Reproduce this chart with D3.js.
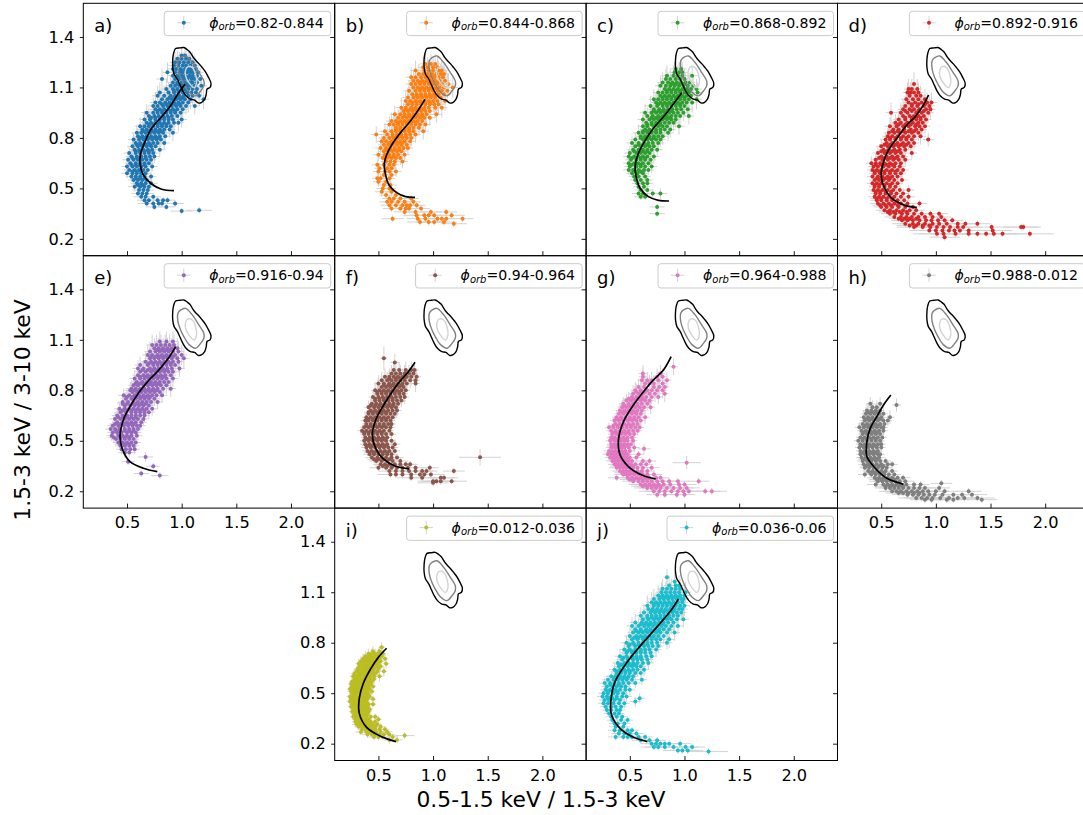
<!DOCTYPE html>
<html lang="en">
<head>
<meta charset="UTF-8">
<title>Colour-colour diagrams by orbital phase</title>
<style>
    html, body { margin: 0; padding: 0; background: #fff; overflow: hidden; }
    svg { display: block; font-family: "DejaVu Sans", sans-serif; }
</style>
</head>
<body>
<div id="graphic"></div>
<script src="https://cdn.jsdelivr.net/npm/d3@7"></script>
<script>
// each row: [y, xerr, yerr, x, x, x ...]
var rowsA = [
[1.29,.04,.05,1,1.03],[1.27,.05,.05,.96,1,1.04,1.07],[1.25,.05,.06,.94,.98,1.02,1.06,1.1],[1.23,.05,.06,.93,.97,1.01,1.04,1.08,1.12],
[1.21,.05,.06,.92,.95,.99,1.03,1.06,1.09,1.13],[1.19,.05,.06,.87,.94,.98,1.01,1.05,1.08,1.11,1.15],[1.17,.05,.06,.92,.96,1,1.03,1.07,1.1,1.14],
[1.15,.05,.06,.82,.94,.98,1.02,1.05,1.09,1.12,1.17],[1.13,.05,.06,.92,.96,1,1.03,1.07,1.1,1.14],[1.11,.05,.06,.9,.94,.98,1.01,1.05,1.08,1.12,1.18],
[1.09,.05,.06,.86,.92,.96,1,1.03,1.06,1.1,1.14],[1.07,.05,.06,.8,.88,.93,.97,1.01,1.05,1.09,1.13],[1.05,.05,.06,.78,.84,.9,.94,.98,1.02,1.06,1.1,1.16],
[1.03,.05,.06,.82,.87,.91,.95,.99,1.03,1.08,1.2],[1.01,.05,.06,.76,.8,.85,.89,.93,.97,1.01,1.06],[.99,.05,.05,.74,.78,.83,.87,.91,.95,.99,1.04,1.12],
[.97,.05,.05,.76,.8,.84,.88,.92,.96,1.01],[.95,.05,.05,.68,.74,.78,.82,.86,.9,.94,.99],[.93,.05,.05,.7,.75,.79,.83,.87,.91,.96],
[.91,.05,.05,.66,.71,.76,.8,.84,.88,.92,1],[.89,.05,.05,.68,.72,.76,.8,.84,.88,.93,.97],[.87,.05,.05,.62,.66,.7,.74,.78,.82,.86,.9],
[.85,.05,.05,.64,.68,.72,.76,.8,.84,.89],[.83,.05,.05,.59,.63,.67,.71,.75,.79,.83,.92],[.81,.05,.05,.6,.64,.68,.72,.76,.8,.85],
[.79,.05,.04,.56,.61,.65,.69,.73,.77,.81],[.77,.05,.04,.58,.62,.66,.7,.74,.78,.84],[.75,.05,.04,.55,.6,.64,.68,.72,.76],
[.73,.05,.04,.57,.61,.65,.69,.73,.8],[.71,.05,.04,.52,.58,.62,.66,.7,.74],[.69,.05,.04,.54,.59,.63,.67,.71,.75],
[.67,.05,.04,.51,.56,.6,.64,.68,.72],[.65,.05,.03,.53,.58,.62,.66,.7],[.63,.05,.03,.5,.55,.59,.63,.67,.73],
[.61,.05,.03,.52,.57,.61,.65,.69],[.59,.05,.03,.5,.55,.59,.63,.67],[.57,.05,.03,.54,.58,.62,.66,.72],[.55,.05,.03,.56,.6,.64,.68],
[.53,.06,.03,.59,.63,.67,.72],[.51,.06,.03,.57,.62,.66,.7],[.49,.06,.02,.61,.65,.69],[.47,.06,.02,.6,.64,.68],[.45,.07,.02,.63,.67,.74],
[.43,.07,.02,.66,.7,.78,.83,.87],[.41,.08,.02,.68,.74,.79,.82,.94],[.39,.08,.02,.75,.86],[.365,.1,.02,1],[.37,.12,.02,1.16],
[1.2,.05,.06,1,1.04,1.08],[1.16,.05,.06,.98,1.02,1.06,1.1],[1.12,.05,.06,.96,1,1.04,1.08],[1.08,.05,.06,.93,.97,1.01,1.05],[1.04,.05,.06,.89,.93,.97,1.01],
[1,.05,.05,.82,.86,.9,.94,.98],[.96,.05,.05,.78,.82,.86,.9,.94],[.92,.05,.05,.72,.76,.8,.84,.88],[.88,.05,.05,.7,.74,.78,.82,.86],[.84,.05,.05,.65,.69,.73,.77,.81],
[.8,.05,.04,.62,.66,.7,.74,.78],[.76,.05,.04,.59,.63,.67,.71],[.72,.05,.04,.58,.62,.66,.7],[.68,.05,.04,.55,.59,.63,.67],[.64,.05,.03,.54,.58,.62,.66],
[.6,.05,.03,.55,.59,.63],[.56,.05,.03,.58,.62,.66],[.52,.06,.03,.6,.64]
];
var rowsB = [
[1.24,.05,.06,.93,.98,1.02],[1.22,.05,.06,.91,.95,1,1.04],[1.2,.05,.06,.84,.92,.96,1,1.05,1.08],[1.18,.05,.06,.87,.91,.95,.99,1.03,1.07,1.1],
[1.16,.05,.06,.8,.84,.89,.93,.97,1.01,1.05,1.09],[1.14,.05,.06,.82,.86,.9,.94,.98,1.02,1.06,1.11],[1.12,.05,.06,.8,.84,.88,.92,.96,1,1.04,1.08,1.14],
[1.1,.05,.06,.82,.86,.9,.94,.98,1.02,1.06,1.1,1.18],[1.08,.05,.06,.78,.84,.88,.92,.96,1,1.04,1.08,1.13],[1.06,.05,.06,.81,.85,.89,.93,.97,1.01,1.05,1.1],
[1.04,.05,.06,.77,.82,.86,.9,.94,.98,1.02,1.07],[1.02,.05,.06,.75,.79,.84,.88,.92,.96,1,1.04,1.11],[1,.05,.06,.77,.81,.85,.89,.93,.97,1.01,1.05],
[.98,.05,.06,.71,.75,.8,.84,.88,.92,.96,1.02,1.08],[.96,.05,.05,.73,.77,.81,.85,.89,.93,.97],[.94,.05,.05,.65,.7,.74,.78,.82,.86,.9,.94,1.03],
[.92,.05,.05,.68,.72,.76,.8,.84,.88,.92,.97],[.9,.05,.05,.62,.66,.7,.74,.78,.82,.86,.9],[.88,.05,.05,.6,.64,.68,.72,.76,.8,.84,.88,.93],
[.86,.05,.05,.66,.7,.74,.78,.82,.87],[.84,.05,.05,.56,.62,.66,.7,.74,.78,.82,.91],[.82,.05,.05,.48,.58,.63,.67,.71,.75,.79,.84],
[.8,.05,.05,.55,.6,.64,.68,.72,.76,.8],[.78,.05,.04,.53,.57,.62,.66,.7,.74,.79],[.76,.05,.04,.55,.59,.63,.67,.71,.76],
[.74,.05,.04,.52,.57,.61,.65,.69,.73,.77],[.72,.05,.04,.55,.59,.63,.67,.71],[.7,.05,.04,.5,.56,.6,.64,.68,.74],
[.68,.05,.04,.54,.58,.62,.66,.7],[.66,.05,.04,.57,.61,.65,.72],[.64,.05,.03,.49,.55,.6,.64],[.62,.05,.03,.51,.58,.62],
[.6,.05,.03,.5,.56,.6,.66],[.58,.05,.03,.55,.62],[.56,.05,.03,.49,.52,.6],[.54,.05,.03,.5,.57],[.52,.06,.03,.55,.61],
[.5,.06,.03,.54,.6],[.48,.06,.03,.53,.62],[.46,.06,.02,.57,.66],[.44,.07,.02,.6,.64,.7,.8],[.42,.07,.02,.58,.62,.68,.74,.82],
[.4,.08,.02,.6,.66,.72,.76,.79,.85],[.38,.08,.02,.62,.7,.75,.78,.89],[.36,.1,.02,.74,.84,.98,1.12],[.34,.12,.02,.85,.92,.96,1.01,1.17],
[.32,.1,.02,.63,.86,.93,1.04,1.08,1.12,1.27],[.3,.12,.02,.88,.96,1.01,1.1],[.29,.12,.02,1.19],
[1.17,.05,.06,.94,.98,1.02],[1.13,.05,.06,.88,.92,.96,1,1.04],[1.09,.05,.06,.88,.92,.96,1,1.04],[1.05,.05,.06,.85,.89,.93,.97,1.01],[1.01,.05,.06,.81,.85,.89,.93,.97],
[.97,.05,.05,.75,.79,.83,.87,.91],[.93,.05,.05,.74,.78,.82,.86,.9],[.89,.05,.05,.68,.72,.76,.8,.84],[.85,.05,.05,.66,.7,.74,.78],[.81,.05,.05,.63,.67,.71,.75],
[.77,.05,.04,.6,.64,.68,.72],[.73,.05,.04,.57,.61,.65,.69],[.69,.05,.04,.56,.6,.64]
];
var rowsC = [
[1.21,.05,.06,.92,.97],[1.19,.05,.06,.91,.95,.98],[1.17,.05,.06,.84,.9,.94,.98,1.07],[1.15,.05,.06,.83,.87,.92,.96,1],
[1.13,.05,.06,.8,.85,.89,.93,.97,1.01,1.05],[1.11,.05,.06,.78,.83,.87,.91,.95,.99,1.03,1.08],[1.09,.05,.06,.82,.86,.9,.94,.98,1.02,1.06,1.11],
[1.07,.05,.06,.76,.8,.84,.88,.92,.96,1,1.04,1.12],[1.05,.05,.06,.78,.82,.86,.9,.94,.98,1.02,1.06],[1.03,.05,.06,.72,.76,.8,.84,.88,.92,.96,1,1.04,1.11],
[1.01,.05,.06,.74,.78,.82,.86,.9,.94,.98,1.02,1.07],[.99,.05,.06,.69,.75,.8,.84,.88,.92,.96,1],[.97,.05,.05,.72,.77,.81,.85,.89,.93,.97,1.03],
[.95,.05,.05,.64,.7,.74,.78,.82,.86,.9,.94,.99],[.93,.05,.05,.66,.71,.76,.8,.84,.88,.92,.96,1.04],[.91,.05,.05,.62,.68,.72,.76,.8,.84,.88,.92],
[.89,.05,.05,.65,.7,.74,.78,.82,.86,.9],[.87,.05,.05,.62,.66,.72,.76,.8,.84,.95],[.85,.05,.05,.64,.68,.74,.78,.82,.87],
[.83,.05,.05,.58,.62,.66,.7,.74,.78,.85],[.81,.05,.05,.6,.64,.68,.72,.76,.8],[.79,.05,.04,.55,.62,.66,.7,.74,.78],
[.77,.05,.04,.52,.58,.63,.67,.71,.76],[.75,.05,.04,.55,.6,.64,.68,.72],[.73,.05,.04,.53,.58,.62,.66,.7,.75],[.71,.05,.04,.5,.56,.6,.64,.68],
[.69,.05,.04,.49,.54,.58,.62,.66,.72],[.67,.05,.04,.51,.56,.6,.64,.69],[.65,.05,.04,.49,.54,.58,.62,.67],[.63,.05,.04,.5,.56,.6,.64,.7],
[.61,.05,.03,.49,.53,.58,.63,.67],[.59,.05,.03,.52,.57,.62],[.57,.05,.03,.54,.58,.64],[.55,.05,.03,.55,.6,.66],[.53,.05,.03,.57,.62,.66],
[.51,.05,.03,.58,.63],[.49,.05,.03,.6,.66],[.47,.06,.03,.58,.62,.71,.78],[.45,.06,.02,.6,.64],[.39,.07,.02,.75],[.35,.07,.02,.75],
[1.12,.05,.06,.88,.92,.96,1],[1.08,.05,.06,.84,.88,.92,.96,1,1.04],[1.04,.05,.06,.8,.84,.88,.92,.96,1],[1,.05,.06,.76,.8,.84,.88,.92,.96],[.96,.05,.05,.72,.76,.8,.84,.88],
[.92,.05,.05,.7,.74,.78,.82,.86],[.88,.05,.05,.66,.7,.74,.78],[.84,.05,.05,.62,.66,.7,.74],[.8,.05,.05,.6,.64,.68,.72],[.76,.05,.04,.58,.62,.66],
[.72,.05,.04,.54,.58,.62,.66],[.68,.05,.04,.52,.56,.6,.64],[.64,.05,.04,.52,.56,.6],[.6,.05,.03,.55,.6]
];
var rowsD = [
[1.12,.04,.07,.8],[1.09,.04,.06,.75,.78,.83],[1.07,.04,.06,.74,.77,.8,.84],[1.05,.04,.06,.76,.82,.86],[1.03,.05,.06,.73,.79,.84,.9],
[1.01,.05,.06,.75,.81,.87,.92,.96],[.99,.05,.06,.72,.78,.83,.89,.94],[.97,.05,.06,.7,.76,.8,.85,.91,.95],[.95,.05,.06,.59,.68,.74,.82,.87,.93],
[.93,.05,.05,.7,.76,.8,.84,.89],[.91,.05,.05,.66,.72,.78,.82,.86,.91],[.89,.05,.05,.63,.68,.74,.79,.84,.88],[.87,.05,.05,.58,.64,.7,.75,.81,.85,.9],
[.85,.05,.05,.61,.66,.71,.77,.82,.87],[.83,.05,.05,.57,.62,.67,.72,.78,.84],[.81,.05,.05,.56,.6,.65,.7,.75,.8,.86],[.79,.05,.04,.54,.58,.63,.68,.73,.78,.93],
[.77,.05,.04,.55,.6,.65,.7,.75,.8],[.75,.05,.04,.5,.56,.61,.66,.71,.77],[.73,.05,.04,.52,.57,.62,.67,.72],[.71,.05,.04,.47,.53,.58,.63,.68,.78],
[.69,.05,.04,.5,.55,.6,.65,.7],[.67,.05,.04,.45,.51,.56,.61,.66,.72],[.65,.05,.04,.41,.45,.49,.53,.58,.63,.68],[.63,.05,.03,.43,.47,.52,.57,.62,.67],
[.61,.05,.03,.42,.46,.5,.55,.6,.65,.7],[.59,.05,.03,.44,.49,.53,.58,.63,.68],[.57,.05,.03,.42,.47,.51,.56,.6,.65],[.55,.05,.03,.44,.48,.52,.57,.62,.69],
[.53,.05,.03,.42,.46,.5,.55,.6,.65],[.51,.05,.03,.44,.48,.53,.58,.63],[.49,.05,.03,.43,.47,.51,.56,.61,.67,.75],[.47,.05,.03,.45,.49,.54,.59,.64,.7],
[.45,.06,.02,.44,.48,.52,.57,.62,.68,.75],[.43,.06,.02,.46,.5,.55,.6,.65,.71],[.41,.07,.02,.47,.52,.57,.62,.68,.74,.85],[.39,.07,.02,.5,.55,.6,.66,.72,.79],
[.37,.08,.02,.53,.58,.64,.7,.76,.82],[.35,.08,.02,.58,.63,.69,.74,.8,.87,.95,1.03],[.33,.09,.02,.62,.68,.73,.78,.84,.9,.97,1.05],
[.31,.1,.02,.69,.74,.79,.85,.91,.96,1.02,1.08,1.15],[.29,.12,.02,.72,.79,.84,.9,.97,1.03,1.1,1.2,1.27,1.38],[.27,.16,.02,.8,.88,.95,1.01,1.07,1.13,1.2,1.25,1.51,1.78,1.8],
[.25,.18,.02,.94,1,1.06,1.12,1.17,1.22,1.3,1.52],[.23,.22,.02,1.01,1.07,1.18,1.3,1.38,1.46,1.53,1.61,1.86],[.21,.14,.02,1.08],
[1,.05,.06,.78,.84,.9],[.96,.05,.05,.72,.78,.84,.89],[.92,.05,.05,.72,.78,.82,.86],[.88,.05,.05,.66,.72,.77,.82],[.84,.05,.05,.6,.65,.7,.75,.8],[.8,.05,.05,.58,.63,.68,.73],
[.76,.05,.04,.53,.58,.63,.68,.73],[.72,.05,.04,.5,.55,.6,.65],[.68,.05,.04,.48,.53,.58,.63],[.64,.05,.04,.45,.5,.55,.6],[.6,.05,.03,.44,.48,.53,.58,.63],[.56,.05,.03,.46,.5,.54,.58],
[.52,.05,.03,.44,.48,.53,.58],[.48,.05,.03,.45,.49,.54,.59],[.44,.06,.02,.46,.5,.55,.6],[.4,.07,.02,.49,.54,.59,.65],[.36,.08,.02,.56,.61,.67,.73],[.32,.09,.02,.66,.71,.76,.82],[.28,.12,.02,.76,.82,.88,.94]
];
var rowsE = [
[1.09,.05,.06,.8,.86,.92],[1.07,.05,.06,.73,.77,.81,.85,.89,.93],[1.05,.05,.06,.75,.79,.83,.87,.91,.96],[1.03,.05,.06,.71,.76,.8,.84,.88,.92,.97],
[1.01,.05,.06,.69,.73,.78,.82,.86,.9,.94,1],[.99,.05,.06,.71,.75,.79,.83,.87,.91,.96,1.02],[.97,.05,.06,.67,.72,.76,.8,.84,.88,.92,.97],
[.95,.05,.05,.62,.69,.74,.78,.82,.86,.9,.94],[.93,.05,.05,.6,.65,.71,.75,.79,.83,.87,.91,.98],[.91,.05,.05,.62,.67,.72,.76,.8,.84,.88,.92],
[.89,.05,.05,.6,.65,.69,.73,.77,.81,.85,.9],[.87,.05,.05,.57,.62,.66,.7,.74,.78,.82,.86,.92],[.85,.05,.05,.59,.64,.68,.72,.76,.8,.84,.88],
[.83,.05,.05,.56,.6,.65,.69,.73,.77,.81,.86],[.81,.05,.05,.54,.58,.62,.66,.7,.74,.78,.83,.9],[.79,.05,.05,.55,.59,.63,.67,.71,.75,.8],
[.77,.05,.04,.47,.52,.57,.61,.65,.69,.73,.77,.82],[.75,.05,.04,.49,.54,.58,.62,.66,.7,.75],[.73,.05,.04,.46,.51,.56,.6,.64,.68,.72,.78],
[.71,.05,.04,.48,.53,.57,.61,.65,.7],[.69,.05,.04,.43,.48,.52,.56,.6,.64,.68,.73],[.67,.05,.04,.44,.49,.54,.58,.62,.66,.7],
[.65,.05,.04,.41,.46,.5,.54,.58,.62,.66],[.63,.05,.04,.39,.44,.48,.52,.56,.6,.65],[.61,.05,.03,.41,.46,.5,.54,.58,.63],
[.59,.05,.03,.37,.42,.47,.51,.55,.59,.62],[.57,.05,.03,.35,.39,.43,.48,.52,.56,.6],[.55,.05,.03,.37,.41,.45,.5,.54,.58],
[.53,.05,.03,.36,.42,.46,.5,.54,.59],[.51,.05,.03,.4,.44,.48,.52,.56],[.49,.05,.03,.42,.46,.5,.54,.58],[.47,.05,.03,.44,.48,.52,.56],
[.45,.05,.03,.45,.49,.53,.57],[.43,.06,.03,.48,.52],[.404,.07,.03,.67],[.376,.06,.02,.51],[.349,.06,.02,.74],[.305,.07,.02,.63],[.293,.08,.02,.8],
[1.04,.05,.06,.78,.82,.86,.9],[1,.05,.06,.72,.76,.8,.84,.88,.92],[.96,.05,.05,.7,.74,.78,.82,.86,.9],[.92,.05,.05,.64,.69,.74,.78,.82,.86],[.88,.05,.05,.62,.67,.71,.75,.79,.83],
[.84,.05,.05,.58,.62,.67,.71,.75,.79],[.8,.05,.05,.53,.57,.61,.65,.69,.73,.77],[.76,.05,.04,.5,.55,.59,.63,.67,.71],[.72,.05,.04,.46,.5,.55,.59,.63,.67],[.68,.05,.04,.46,.5,.54,.58,.62,.66],
[.64,.05,.04,.42,.46,.5,.54,.58],[.6,.05,.03,.39,.44,.48,.52,.56],[.56,.05,.03,.4,.44,.48,.52,.56],[.52,.05,.03,.38,.44,.48,.52],[.48,.05,.03,.44,.48,.52]
];
var rowsF = [
[.99,.03,.07,.55],[.966,.04,.05,.65],[.92,.04,.05,.64,.69,.75,.8,.83],[.9,.04,.05,.62,.66,.7,.74,.78,.82],[.88,.04,.05,.56,.6,.64,.68,.72,.76,.8,.85],
[.86,.04,.05,.53,.58,.62,.66,.7,.74,.79,.84],[.84,.04,.05,.5,.55,.6,.64,.68,.72,.76,.84],[.82,.04,.05,.53,.57,.61,.65,.69,.73],
[.8,.04,.05,.47,.51,.55,.59,.63,.67,.71,.75],[.78,.04,.05,.49,.53,.57,.61,.65,.69,.73],[.76,.04,.04,.45,.5,.54,.58,.62,.66,.7,.74],
[.74,.04,.04,.47,.51,.55,.59,.63,.67,.71],[.72,.04,.04,.44,.48,.52,.56,.6,.64,.68],[.7,.04,.04,.41,.46,.5,.54,.58,.62,.66],
[.68,.04,.04,.43,.47,.51,.55,.59,.63,.67],[.66,.04,.04,.41,.45,.49,.53,.57,.61,.65],[.64,.04,.03,.39,.43,.47,.51,.55,.59,.63],
[.62,.04,.03,.38,.41,.45,.49,.53,.57,.61],[.6,.04,.03,.39,.43,.47,.51,.55,.59,.62],[.58,.04,.03,.37,.41,.45,.49,.53,.57,.61],
[.56,.04,.03,.35,.39,.43,.47,.51,.55,.6],[.54,.04,.03,.37,.41,.45,.49,.53,.57,.62],[.52,.04,.03,.38,.42,.46,.5,.54,.58],
[.5,.04,.03,.37,.41,.45,.49,.53,.57,.62],[.48,.05,.03,.38,.42,.46,.5,.54,.58,.65],[.46,.05,.03,.39,.43,.47,.51,.55,.59,.63],
[.44,.05,.03,.4,.44,.48,.52,.56,.6,.65],[.42,.06,.02,.42,.46,.5,.54,.58,.62],[.402,.19,.05,1.43],[.4,.06,.02,.44,.49,.53,.57,.62,.67],
[.38,.07,.02,.48,.53,.58,.63,.7],[.36,.07,.02,.52,.56,.6,.65,.7,.75,.79],[.34,.08,.02,.5,.57,.62,.67,.72,.77,.84,.97],[.32,.1,.02,.6,.66,.72,.78,.84,.9,.94,1.19],
[.3,.12,.02,.61,.66,.72,.8,.88,.92,.98],[.28,.13,.02,.8,.9,1.07,1.1],[.26,.14,.02,1,1.03,1.07,1.17],[.25,.14,.02,1],
[.87,.04,.05,.6,.66,.7,.74],[.83,.04,.05,.55,.59,.63,.67,.71],[.79,.04,.05,.49,.53,.57,.61,.65,.69],[.75,.04,.04,.47,.51,.55,.59,.63],[.71,.04,.04,.43,.47,.51,.55,.59,.63],
[.67,.04,.04,.41,.45,.49,.53,.57],[.63,.04,.03,.41,.45,.49,.53,.57],[.59,.04,.03,.39,.43,.47,.51,.55],[.55,.04,.03,.37,.41,.45,.49,.53],[.51,.04,.03,.39,.43,.47,.51,.55],
[.47,.05,.03,.4,.44,.48,.52,.56],[.43,.05,.02,.42,.46,.5,.54,.58],[.39,.06,.02,.46,.5,.55,.6],[.35,.07,.02,.54,.58,.63]
];
var rowsG = [
[.94,.04,.05,.9],[.9,.04,.05,.62,.78],[.88,.04,.05,.62,.75,.8],[.86,.04,.05,.61,.66,.7,.76,.84],[.84,.04,.05,.64,.68,.72,.8],[.82,.04,.05,.58,.63,.72,.77,.82],
[.8,.04,.05,.55,.6,.66,.7,.75,.8],[.78,.04,.05,.53,.58,.62,.68,.73,.82],[.76,.04,.04,.52,.56,.61,.65,.7,.76],[.74,.04,.04,.47,.51,.55,.6,.64,.68],
[.72,.04,.04,.44,.49,.53,.57,.61,.66],[.7,.04,.04,.43,.47,.51,.55,.59,.63,.69],[.68,.04,.04,.41,.45,.49,.53,.57,.61],[.66,.04,.04,.4,.44,.48,.52,.56,.6],
[.64,.04,.04,.38,.42,.46,.5,.54,.58,.64],[.62,.04,.03,.36,.4,.44,.48,.52,.56,.6],[.6,.04,.03,.37,.41,.45,.49,.53,.57],[.58,.04,.03,.31,.35,.39,.43,.47,.51,.55,.59],
[.56,.04,.03,.33,.37,.41,.45,.49,.53,.57],[.54,.04,.03,.34,.38,.42,.46,.5,.54],[.52,.04,.03,.33,.36,.4,.44,.48,.52],[.5,.04,.03,.32,.36,.39,.42,.45,.48,.53],
[.48,.04,.03,.33,.36,.39,.42,.45,.48,.51],[.46,.05,.03,.33,.36,.39,.42,.45,.49,.54],[.452,.06,.03,.63],[.44,.05,.03,.31,.34,.37,.4,.43,.46,.5],
[.42,.05,.02,.3,.33,.36,.39,.42,.45,.48,.58],[.4,.05,.02,.32,.35,.38,.41,.44,.47,.5,.56],[.38,.06,.02,.34,.37,.4,.43,.46,.49,.52,.62,.68],
[.37,.13,.04,1.02],[.36,.06,.02,.36,.39,.42,.45,.48,.51,.55,.6,.65],[.34,.07,.02,.38,.41,.44,.47,.5,.53,.57,.62,.7],[.32,.07,.02,.41,.44,.47,.5,.53,.57,.61,.66],
[.3,.08,.02,.44,.47,.5,.54,.58,.62,.66,.72],[.28,.08,.02,.38,.48,.52,.56,.6,.64,.68,.74,.78],[.26,.1,.02,.53,.58,.62,.66,.7,.75,.8,.86,.94,1.13],
[.24,.11,.02,.6,.64,.68,.72,.76,.81,.87,.95,1],[.22,.12,.02,.66,.7,.74,.78,.84,.9,.96,1.02],[.2,.14,.02,.72,.77,.82,.88,.94,.99,1.04,1.19,1.25],[.18,.1,.02,.75,.82,.93,1],
[.79,.04,.05,.56,.6,.64],[.75,.04,.04,.49,.53,.58,.62],[.71,.04,.04,.45,.49,.53,.57],[.67,.04,.04,.43,.47,.51,.55],[.63,.04,.03,.38,.42,.46,.5,.54],[.59,.04,.03,.35,.39,.43,.47,.51],
[.55,.04,.03,.36,.4,.44,.48],[.51,.04,.03,.34,.38,.41,.45],[.47,.05,.03,.34,.37,.4,.43,.46],[.43,.05,.02,.33,.36,.39,.42,.45],[.39,.05,.02,.35,.38,.41,.44,.47],[.35,.06,.02,.38,.41,.44,.47,.5,.53],
[.31,.07,.02,.43,.46,.49,.52,.56,.6],[.27,.09,.02,.5,.54,.58,.62,.66],[.23,.11,.02,.62,.66,.7,.74,.78]
];
var rowsH = [
[.713,.04,.04,.64],[.72,.04,.04,.4,.49],[.7,.04,.04,.42,.46],[.68,.04,.04,.37,.41,.45,.49],[.66,.04,.04,.36,.4,.44,.48,.52],[.64,.04,.04,.34,.38,.42,.46,.5,.58],
[.62,.04,.03,.35,.39,.43,.47,.52,.56],[.6,.04,.03,.33,.37,.41,.45,.49,.53],[.58,.04,.03,.3,.34,.38,.42,.46,.5,.52],[.56,.04,.03,.32,.36,.4,.44,.48,.52],
[.54,.04,.03,.33,.37,.41,.45,.49],[.52,.04,.03,.31,.35,.39,.43,.47,.51],[.5,.04,.03,.29,.33,.37,.41,.45,.49],[.48,.04,.03,.31,.35,.39,.43,.47,.5],
[.46,.04,.03,.3,.34,.38,.42,.46,.5],[.44,.04,.03,.31,.35,.39,.43,.47],[.42,.04,.02,.31,.35,.39,.43,.47,.49],[.4,.05,.02,.32,.36,.4,.44,.48],
[.38,.05,.02,.33,.37,.41,.45,.49,.54],[.36,.05,.02,.34,.38,.42,.46,.5,.56,.6],[.34,.05,.02,.35,.39,.43,.47,.51,.55],[.32,.05,.02,.38,.42,.46,.5,.54,.6],
[.3,.06,.02,.35,.41,.45,.49,.53,.57,.62],[.28,.07,.02,.44,.48,.52,.56,.6,.65,.7],[.26,.08,.02,.47,.51,.55,.59,.63,.67,.72],[.247,.1,.02,1.05],
[.24,.08,.02,.45,.52,.56,.6,.64,.68,.73,.8,.86],[.22,.1,.02,.54,.58,.62,.66,.7,.75,.8,.85,.9,1.03],[.2,.12,.02,.6,.64,.68,.73,.78,.83,.88,.93,1,1.08,1.3],
[.18,.14,.02,.74,.79,.84,.89,.94,.99,1.06,1.16,1.24,1.33],[.16,.16,.02,.82,.87,.92,.97,1.04,1.12,1.2,1.26,1.38],[.15,.14,.02,.9,.96,1.1,1.16,1.42],
[.67,.04,.04,.38,.42,.46],[.63,.04,.03,.37,.41,.45,.49],[.59,.04,.03,.35,.39,.43,.47],[.55,.04,.03,.34,.38,.42,.46],[.51,.04,.03,.33,.37,.41,.45],[.47,.04,.03,.33,.37,.41,.45],
[.43,.04,.02,.33,.37,.41,.45],[.39,.05,.02,.34,.38,.42,.46],[.35,.05,.02,.36,.4,.44,.48,.52],[.31,.06,.02,.4,.44,.48,.52],[.27,.07,.02,.46,.5,.54,.58,.62],[.23,.09,.02,.54,.58,.62,.66,.7],[.19,.12,.02,.66,.7,.75,.8,.85]
];
var rowsI = [
[.773,.03,.03,.53],[.75,.03,.03,.45,.51],[.735,.03,.03,.41,.44,.47,.5,.54],[.72,.03,.03,.38,.41,.44,.47,.5,.53],[.705,.03,.03,.36,.39,.42,.45,.48,.51,.56],
[.69,.03,.03,.34,.37,.4,.43,.46,.49,.52],[.675,.03,.03,.32,.35,.38,.41,.44,.47,.5,.57],[.66,.03,.03,.33,.36,.39,.42,.45,.48,.52],[.645,.03,.03,.31,.34,.37,.4,.43,.46,.5],
[.63,.03,.03,.3,.33,.36,.39,.42,.45,.49,.55],[.615,.03,.03,.28,.32,.35,.38,.41,.44,.47],[.6,.03,.03,.27,.3,.33,.36,.39,.42,.46,.51],[.585,.03,.03,.28,.31,.34,.37,.4,.43,.46],
[.57,.03,.03,.26,.29,.32,.35,.38,.41,.44],[.555,.03,.02,.25,.28,.31,.34,.37,.4,.43],[.54,.03,.02,.26,.29,.32,.35,.38,.41,.45],[.525,.03,.02,.24,.27,.3,.33,.36,.39,.42],
[.51,.03,.02,.25,.28,.31,.34,.37,.4,.44],[.495,.03,.02,.26,.29,.32,.35,.38,.41],[.48,.03,.02,.24,.27,.3,.33,.36,.39,.42],[.465,.03,.02,.25,.28,.31,.34,.37,.4,.45],
[.45,.03,.02,.24,.27,.3,.33,.36,.39],[.435,.03,.02,.26,.29,.32,.35,.38,.41,.45],[.42,.03,.02,.25,.28,.31,.34,.37,.4],[.405,.03,.02,.27,.3,.33,.36,.39,.42],
[.39,.03,.02,.26,.29,.32,.35,.38,.41],[.375,.03,.02,.28,.31,.34,.37,.4],[.36,.03,.02,.27,.3,.33,.36,.39,.43,.47],[.345,.03,.02,.29,.32,.35,.38,.41,.5],
[.33,.03,.02,.29,.31,.34,.37,.4,.43,.47],[.315,.04,.02,.3,.33,.36,.39,.42,.45,.49],[.3,.04,.02,.32,.35,.38,.41,.44,.47,.52],[.285,.04,.02,.35,.38,.41,.44,.47,.51,.56],
[.27,.05,.02,.34,.39,.42,.45,.48,.52,.58],[.255,.05,.02,.4,.44,.47,.51,.55,.6],[.248,.09,.02,.74],[.24,.05,.02,.46,.5,.54,.63],[.222,.05,.02,.6,.67]
];
var rowsJ = [
[1.189,.03,.05,.84],[1.163,.03,.06,.91],[1.14,.05,.06,.86,.92,.95],[1.12,.05,.06,.8,.84,.88,.92,.96],[1.1,.05,.06,.79,.83,.87,.91,.95,1.01],
[1.08,.05,.06,.76,.8,.84,.88,.92,.96,1],[1.06,.05,.06,.72,.77,.81,.85,.89,.93,.97,.99],[1.04,.05,.06,.7,.74,.78,.82,.86,.9,.94,.98],[1.02,.05,.06,.66,.72,.76,.8,.84,.88,.92,.96,1],
[1,.05,.05,.67,.71,.75,.79,.83,.87,.91,.95,.98],[.98,.05,.05,.63,.69,.73,.77,.81,.85,.89,.93,.97],[.96,.05,.05,.6,.66,.7,.74,.78,.82,.86,.9,.94],
[.94,.05,.05,.62,.67,.72,.76,.8,.84,.88,.93,.99],[.92,.05,.05,.55,.61,.65,.69,.73,.77,.81,.85,.9],[.9,.05,.05,.52,.58,.63,.67,.71,.75,.79,.83,.88,.94],
[.88,.05,.05,.55,.6,.65,.69,.73,.77,.81,.86],[.86,.05,.05,.53,.58,.62,.66,.7,.74,.78,.84,.91],[.84,.05,.05,.5,.56,.6,.64,.68,.72,.76,.81],
[.82,.05,.05,.52,.57,.62,.66,.7,.74,.78,.86],[.8,.05,.04,.47,.53,.58,.62,.66,.7,.75,.84],[.78,.05,.04,.49,.55,.59,.63,.67,.71,.76],
[.76,.05,.04,.45,.5,.55,.6,.64,.68,.74],[.74,.05,.04,.47,.52,.56,.6,.64,.69],[.72,.05,.04,.41,.47,.52,.56,.6,.65,.7],[.7,.05,.04,.43,.48,.53,.57,.61,.66],
[.68,.05,.04,.39,.45,.49,.53,.57,.62,.67],[.66,.05,.04,.4,.44,.48,.52,.56,.6],[.64,.05,.04,.36,.41,.45,.49,.53,.57,.63],[.62,.05,.03,.38,.42,.46,.5,.55,.6],
[.6,.05,.03,.33,.37,.41,.45,.49,.53],[.58,.05,.03,.3,.35,.39,.43,.47,.52,.61],[.56,.05,.03,.27,.32,.36,.4,.44,.49,.55],[.54,.05,.03,.29,.34,.38,.42,.46],
[.52,.05,.03,.28,.32,.37,.41,.46,.5],[.5,.05,.03,.26,.3,.35,.39,.44],[.48,.05,.03,.25,.29,.33,.38,.43,.47],[.47,.05,.03,.59],[.46,.05,.03,.27,.31,.36,.41],
[.45,.05,.03,.55],[.44,.05,.03,.26,.3,.35,.4,.45],[.42,.05,.02,.28,.33,.37,.42],[.4,.05,.02,.29,.33,.38,.41],[.38,.05,.02,.31,.36,.4],[.36,.05,.02,.33,.38,.43],
[.34,.05,.02,.34,.42,.48],[.32,.05,.02,.36,.39,.45],[.3,.06,.02,.37,.44],[.28,.06,.02,.36,.41,.48,.52],[.26,.07,.02,.4,.45,.5,.56],[.24,.07,.02,.37,.44,.48,.52,.58,.64],
[.22,.08,.02,.6,.68,.75],[.2,.1,.02,.7,.74,.78,.82,.86,.96],[.18,.12,.02,.72,.76,.82,.9,1.01,1.07],[.16,.14,.02,.94,.98,1.03],[.153,.18,.02,1.22],
[1.07,.05,.06,.78,.82,.86,.9,.94],[1.03,.05,.06,.72,.76,.8,.84,.88,.92],[.99,.05,.05,.7,.74,.78,.82,.86,.9],[.95,.05,.05,.66,.7,.74,.78,.82,.86],[.91,.05,.05,.6,.64,.68,.72,.76,.8],
[.87,.05,.05,.56,.6,.64,.68,.72,.76],[.83,.05,.05,.54,.58,.62,.66,.7],[.79,.05,.04,.5,.54,.58,.62,.66],[.75,.05,.04,.48,.52,.56,.6],[.71,.05,.04,.44,.48,.52,.56,.6],
[.67,.05,.04,.42,.46,.5,.54],[.63,.05,.03,.38,.42,.46,.5],[.59,.05,.03,.36,.4,.44,.48],[.55,.05,.03,.32,.36,.4],[.51,.05,.03,.3,.34,.38],[.47,.05,.03,.3,.34,.38]
];

// black tracks in each panel
var trackA = [[1.03,1.119],[.97,1.065],[.893,.986],[.817,.926],[.725,.857],[.665,.778],[.625,.709],[.619,.649],[.649,.58],[.725,.526],[.817,.495],[.93,.487]];
var trackB = [[.926,1.029],[.865,.966],[.789,.897],[.697,.827],[.621,.758],[.575,.699],[.554,.649],[.56,.6],[.597,.52],[.667,.475],[.749,.451],[.835,.447]];
var trackC = [[.975,1.069],[.899,1.002],[.808,.926],[.716,.857],[.634,.778],[.573,.699],[.548,.629],[.558,.57],[.594,.501],[.67,.451],[.762,.429],[.859,.425]];
var trackD = [[.933,1.055],[.887,.996],[.811,.926],[.735,.877],[.643,.798],[.567,.728],[.521,.659],[.5,.58],[.53,.501],[.597,.441],[.704,.402],[.826,.386]];
var trackE = [[.945,1.06],[.878,.99],[.786,.917],[.695,.856],[.603,.782],[.527,.703],[.466,.624],[.436,.525],[.46,.446],[.527,.376],[.649,.337],[.777,.317]];
var trackF = [[.835,.967],[.774,.911],[.682,.842],[.606,.772],[.53,.693],[.475,.624],[.444,.535],[.475,.455],[.545,.392],[.652,.35],[.78,.333]];
var trackG = [[.878,1],[.808,.921],[.716,.862],[.625,.792],[.533,.713],[.442,.614],[.396,.505],[.411,.416],[.487,.347],[.609,.297],[.737,.273]];
var trackH = [[.588,.772],[.521,.713],[.46,.644],[.399,.574],[.369,.495],[.369,.406],[.445,.337],[.552,.277],[.704,.242]];
var trackI = [[.575,.767],[.499,.713],[.423,.638],[.362,.559],[.325,.47],[.325,.38],[.392,.297],[.514,.246],[.661,.212]];
var trackJ = [[.945,1.06],[.869,.985],[.777,.915],[.67,.836],[.564,.757],[.457,.668],[.365,.569],[.329,.47],[.329,.381],[.396,.301],[.518,.242],[.661,.212]];

// reference contours, the same in all panels
var contourOuter = [[.944,1.331],[.985,1.335],[1.02,1.337],[1.05,1.325],[1.075,1.311],[1.105,1.28],[1.13,1.26],[1.16,1.24],[1.188,1.218],[1.215,1.195],[1.245,1.16],[1.268,1.125],[1.26,1.1],[1.232,1.09],[1.225,1.06],[1.21,1.03],[1.18,1.01],[1.15,1.008],[1.118,1.025],[1.08,1.03],[1.04,1.05],[1.01,1.08],[.985,1.115],[.96,1.15],[.93,1.18],[.918,1.22],[.918,1.265],[.925,1.3]];
var contourMiddle = [[.966,1.258],[.99,1.277],[1.036,1.287],[1.097,1.248],[1.158,1.188],[1.203,1.139],[1.203,1.109],[1.173,1.079],[1.127,1.05],[1.066,1.073],[1.02,1.119],[.99,1.158],[.966,1.208]];
var contourInner = [[1.057,1.224],[1.097,1.218],[1.127,1.178],[1.136,1.129],[1.112,1.099],[1.066,1.129],[1.036,1.168],[1.036,1.204]];

var panelNames = ['a)','b)','c)','d)','e)','f)','g)','h)','i)','j)'];
var phaseRanges = ['0.82-0.844','0.844-0.868','0.868-0.892','0.892-0.916','0.916-0.94','0.94-0.964','0.964-0.988','0.988-0.012','0.012-0.036','0.036-0.06'];
var colors = ['#1f77b4','#ff7f0e','#2ca02c','#d62728','#9467bd','#8c564b','#e377c2','#7f7f7f','#bcbd22','#17becf'];
var allRows = [rowsA,rowsB,rowsC,rowsD,rowsE,rowsF,rowsG,rowsH,rowsI,rowsJ];
var allTracks = [trackA,trackB,trackC,trackD,trackE,trackF,trackG,trackH,trackI,trackJ];
var cols = [0,1,2,3,0,1,2,3,1,2];
var gridRows = [0,0,0,0,1,1,1,1,2,2];
var xLabelled = [4,7,8,9]; // only panels with nothing below them
var xTicks = [0.5,1,1.5,2];
var yTicks = [0.2,0.5,0.8,1.1,1.4];

var width = 1083, height = 815;
var panelW = 251.4, panelH = 252.4, left0 = 83.3, top0 = 3.3;

var svg = d3.select('#graphic').append('svg').attr('width', width).attr('height', height);

var x = d3.scaleLinear().domain([0.1, 2.4]).range([0, panelW]);
var y = d3.scaleLinear().domain([0.1, 1.6]).range([panelH, 0]);
var line = d3.line().x(function(d){return x(d[0])}).y(function(d){return y(d[1])});

panelNames.forEach(function(name, i) {
    var col = cols[i], row = gridRows[i];
    var g = svg.append('g').attr('transform', 'translate(' + (left0 + col*panelW) + ',' + (top0 + row*panelH) + ')');

    // unpack the rows into points
    var pts = [];
    allRows[i].forEach(function(r) {
        r.slice(3).forEach(function(px) { pts.push({x: px, y: r[0], ex: r[1], ey: r[2]}) });
    });

    var bars = g.append('g').attr('stroke', 'lightgray').attr('stroke-width', 1);
    bars.selectAll('.xbar').data(pts).join('line').attr('class', 'xbar')
        .attr('x1', function(d){return x(d.x - d.ex)}).attr('x2', function(d){return x(d.x + d.ex)})
        .attr('y1', function(d){return y(d.y)}).attr('y2', function(d){return y(d.y)});
    bars.selectAll('.ybar').data(pts).join('line').attr('class', 'ybar')
        .attr('x1', function(d){return x(d.x)}).attr('x2', function(d){return x(d.x)})
        .attr('y1', function(d){return y(d.y - d.ey)}).attr('y2', function(d){return y(d.y + d.ey)});

    g.append('g').attr('fill', colors[i]).selectAll('circle').data(pts).join('circle')
        .attr('cx', function(d){return x(d.x)}).attr('cy', function(d){return y(d.y)}).attr('r', 2);

    // contours on top of the points
    var closed = d3.line().x(function(d){return x(d[0])}).y(function(d){return y(d[1])}).curve(d3.curveCatmullRomClosed);
    [[contourOuter,'black'],[contourMiddle,'gray'],[contourInner,'lightgray']].forEach(function(c) {
        g.append('path').attr('d', closed(c[0])).attr('fill', 'none').attr('stroke', c[1]).attr('stroke-width', 1.4);
    });

    g.append('path').attr('d', line.curve(d3.curveCatmullRom)(allTracks[i])).attr('fill', 'none').attr('stroke', 'black').attr('stroke-width', 1.7);

    // axes
    var xAxis = d3.axisBottom(x).tickValues(xTicks).tickSizeInner(-4.5).tickSizeOuter(0).tickPadding(8.5).tickFormat(d3.format('.1f'));
    var gx = g.append('g').attr('transform', 'translate(0,' + panelH + ')').call(xAxis);
    if (xLabelled.indexOf(i) < 0) gx.selectAll('text').remove();

    g.append('g').attr('transform', 'translate(' + panelW + ',0)')
        .call(d3.axisRight(y).tickValues(yTicks).tickSizeInner(-4.5).tickSizeOuter(0).tickFormat(''));

    if (col == 0 || i == 8) {
        g.append('g').call(d3.axisLeft(y).tickValues(yTicks).tickSizeInner(3.5).tickSizeOuter(0).tickPadding(5.5).tickFormat(d3.format('.1f')));
    }
    g.selectAll('.tick text').attr('font-size', 16.2).attr('font-family', '"DejaVu Sans"').attr('fill', 'black');
    g.selectAll('.tick line').attr('stroke', 'black').attr('stroke-width', 0.9);
    g.selectAll('.domain').remove();

    g.append('rect').attr('width', panelW).attr('height', panelH).attr('fill', 'none').attr('stroke', 'black').attr('stroke-width', 1);

    g.append('text').attr('x', 11).attr('y', 28.5).attr('font-size', 18).text(name);

    // legend, anchored to the upper right corner of the panel
    var lg = g.append('g');
    var box = lg.append('rect').attr('y', 8).attr('height', 24.3).attr('rx', 3)
        .attr('fill', 'white').attr('fill-opacity', 0.8).attr('stroke', '#ccc').attr('stroke-width', 1);
    var label = lg.append('text').attr('y', 24.6).attr('font-size', 14.1);
    label.append('tspan').attr('font-style', 'italic').text('\u03d5');
    label.append('tspan').attr('font-style', 'italic').attr('font-size', 10).attr('dy', 2.5).text('orb');
    label.append('tspan').attr('dy', -2.5).text('=' + phaseRanges[i]);
    var textLen = label.node().getComputedTextLength();
    var boxRight = panelW - 4;
    var boxLeft = boxRight - textLen - 52;
    box.attr('x', boxLeft).attr('width', boxRight - boxLeft);
    label.attr('x', boxLeft + 45);
    var hx = boxLeft + 19.6, hy = 19.5;
    lg.append('line').attr('x1', hx - 6.7).attr('x2', hx + 6.7).attr('y1', hy).attr('y2', hy).attr('stroke', 'lightgray');
    lg.append('line').attr('x1', hx).attr('x2', hx).attr('y1', hy - 6.7).attr('y2', hy + 6.7).attr('stroke', 'lightgray');
    lg.append('circle').attr('cx', hx).attr('cy', hy).attr('r', 2).attr('fill', colors[i]);
});

svg.append('text').attr('x', 541).attr('y', 807).attr('text-anchor', 'middle').attr('font-size', 21.8).text('0.5-1.5 keV / 1.5-3 keV');
svg.append('text').attr('transform', 'translate(30,410) rotate(-90)').attr('text-anchor', 'middle').attr('font-size', 21.8).text('1.5-3 keV / 3-10 keV');
</script>
</body>
</html>
